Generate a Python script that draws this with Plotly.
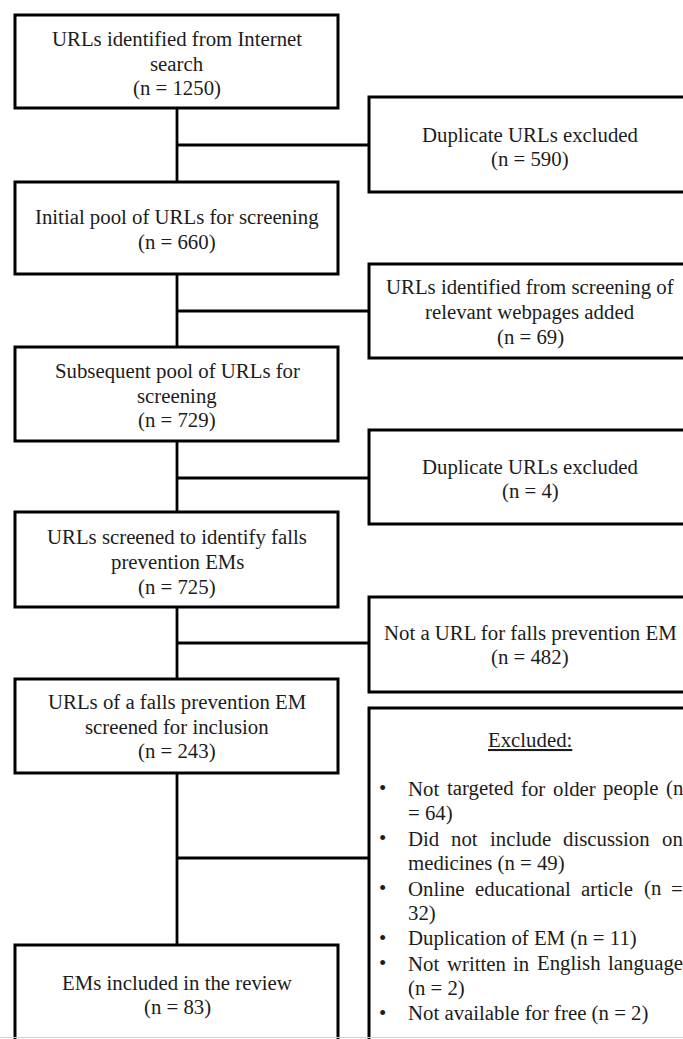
import plotly.graph_objects as go

# ---------------- data ----------------
main_labels = [
    ["URLs identified from Internet", "search"],
    ["Initial pool of URLs for screening"],
    ["Subsequent pool of URLs for", "screening"],
    ["URLs screened to identify falls", "prevention EMs"],
    ["URLs of a falls prevention EM", "screened for inclusion"],
    ["EMs included in the review"],
]
main_counts = [1250, 660, 729, 725, 243, 83]

side_labels = [
    ["Duplicate URLs excluded"],
    ["URLs identified from screening of", "relevant webpages added"],
    ["Duplicate URLs excluded"],
    ["Not a URL for falls prevention EM"],
]
side_counts = [590, 69, 4, 482]

excluded_title = "Excluded:"
excluded_reasons = [
    "Not targeted for older people",
    "Did not include discussion on medicines",
    "Online educational article",
    "Duplication of EM",
    "Not written in English language",
    "Not available for free",
]
excluded_counts = [64, 49, 32, 11, 2, 2]

# ---------------- layout geometry (page pixels) ----------------
W, H = 683, 1039
FONT = "Liberation Serif, Times New Roman, serif"
FS = 20.8
LS = 24.8
TXT = "#1c1c1c"
MAIN_X = (15, 338)
SIDE_X = (369, 691)
TRUNK_X = 177
main_y = [(15, 108), (182, 274), (347, 441), (512, 607), (679, 773), (945, 1070)]
side_y = [(97, 192), (264, 358), (430, 524), (597, 692), (708, 1070)]
main_cy = [63, 229.5, 395.5, 562, 726.5, 995]
side_cy = [147, 312, 479, 645]
branch_y = [145, 311, 478, 643, 858]
MAIN_CX = 177
SIDE_CX = 530
EXC_TITLE_Y = 739
BULLET_X = 382
TEXT_L, TEXT_R = 407, 682
LIST_Y0 = 788
LIST_LS = 25

# Times / Liberation Serif advance widths (per 1000 em)
TW = {' ': 250, '(': 333, ')': 333, '=': 564, ':': 278, '.': 250, ',': 250,
      'A': 722, 'B': 667, 'C': 667, 'D': 722, 'E': 611, 'F': 556, 'G': 722, 'H': 722,
      'I': 333, 'J': 389, 'K': 722, 'L': 611, 'M': 889, 'N': 722, 'O': 722, 'P': 556,
      'Q': 722, 'R': 667, 'S': 556, 'T': 611, 'U': 722, 'V': 722, 'W': 944, 'X': 722,
      'Y': 722, 'Z': 611,
      'a': 444, 'b': 500, 'c': 444, 'd': 500, 'e': 444, 'f': 333, 'g': 500, 'h': 500,
      'i': 278, 'j': 278, 'k': 500, 'l': 278, 'm': 778, 'n': 500, 'o': 500, 'p': 500,
      'q': 500, 'r': 333, 's': 389, 't': 278, 'u': 500, 'v': 500, 'w': 722, 'x': 500,
      'y': 500, 'z': 444}
for d in "0123456789":
    TW[d] = 500


def tw(s):
    return sum(TW.get(c, 500) for c in s) / 1000.0 * FS


fig = go.Figure()
fig.add_trace(go.Scatter(x=[1, W - 1], y=[1, H - 1], mode="markers",
                         marker=dict(opacity=0), hoverinfo="skip", showlegend=False))

shapes = []
annotations = []


def ann(x, y, text, xanchor="center", size=FS):
    annotations.append(dict(x=x, y=y, xref="x", yref="y", text=text, showarrow=False,
                            xanchor=xanchor, yanchor="middle", borderpad=0,
                            font=dict(family=FONT, size=size, color=TXT)))


def rect(x0, x1, y0, y1):
    shapes.append(dict(type="rect", xref="x", yref="y", x0=x0, x1=x1, y0=y0, y1=y1,
                       line=dict(color="black", width=3), fillcolor="rgba(0,0,0,0)"))


def line(x0, y0, x1, y1, w=2.8):
    shapes.append(dict(type="line", xref="x", yref="y", x0=x0, x1=x1, y0=y0, y1=y1,
                       line=dict(color="black", width=w)))


# main boxes
for i, (lab, n) in enumerate(zip(main_labels, main_counts)):
    y0, y1 = main_y[i]
    rect(MAIN_X[0], MAIN_X[1], y0, y1)
    lines = lab + ["(n = %d)" % n]
    k = len(lines)
    for j, t in enumerate(lines):
        ann(MAIN_CX, main_cy[i] + (j - (k - 1) / 2) * LS, t)

# trunk segments and branches
for i in range(len(main_y) - 1):
    line(TRUNK_X, main_y[i][1], TRUNK_X, main_y[i + 1][0])
for by in branch_y:
    line(TRUNK_X, by, SIDE_X[0], by)

# side boxes
for i, (y0, y1) in enumerate(side_y):
    rect(SIDE_X[0], SIDE_X[1], y0, y1)
for i, (lab, n) in enumerate(zip(side_labels, side_counts)):
    lines = lab + ["(n = %d)" % n]
    k = len(lines)
    for j, t in enumerate(lines):
        ann(SIDE_CX, side_cy[i] + (j - (k - 1) / 2) * LS, t)

# excluded list
ann(SIDE_CX, EXC_TITLE_Y, "<u>%s</u>" % excluded_title)
width = TEXT_R - TEXT_L
row = 0
for reason, n in zip(excluded_reasons, excluded_counts):
    words = ("%s (n = %d)" % (reason, n)).split(" ")
    # greedy wrap
    wrapped = []
    cur = []
    for wd in words:
        trial = " ".join(cur + [wd])
        if cur and tw(trial) > width:
            wrapped.append(cur)
            cur = [wd]
        else:
            cur.append(wd)
    wrapped.append(cur)
    for li, wl in enumerate(wrapped):
        y = LIST_Y0 + row * LIST_LS
        if li == 0:
            ann(BULLET_X, y - 1, "•")
        last = li == len(wrapped) - 1
        if last or len(wl) == 1:
            ann(TEXT_L, y, " ".join(wl), xanchor="left")
        else:
            total = sum(tw(w_) for w_ in wl)
            gap = (width - total) / (len(wl) - 1)
            x = TEXT_L
            for wi, w_ in enumerate(wl):
                ann(x, y, w_, xanchor="left")
                x += tw(w_) + gap
        row += 1

# faint bottom border of the scanned image
shapes.append(dict(type="line", xref="x", yref="y", x0=0, x1=W, y0=1037.5, y1=1037.5,
                   line=dict(color="#cfcfcf", width=1)))

fig.update_layout(
    width=W, height=H, margin=dict(l=0, r=0, t=0, b=0),
    paper_bgcolor="white", plot_bgcolor="white",
    xaxis=dict(range=[0, W], visible=False, fixedrange=True),
    yaxis=dict(range=[H, 0], visible=False, fixedrange=True),
    shapes=shapes, annotations=annotations, showlegend=False,
)
fig.write_html(
    "out.html",
    config={"displayModeBar": False},
    post_script="document.body.style.margin='0';document.body.style.overflow='hidden';",
)
